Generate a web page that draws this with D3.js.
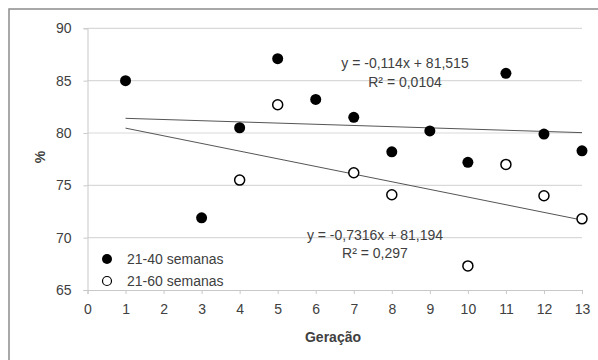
<!DOCTYPE html>
<html>
<head>
<meta charset="utf-8">
<script src="https://cdn.jsdelivr.net/npm/d3@7"></script>
<style>
  body { margin: 0; background: #fff; }
  svg text { font-family: "Liberation Sans", Arial, sans-serif; fill: #404040; }
</style>
</head>
<body>
<svg id="chart" width="598" height="360"></svg>
<script>
// geração (x) e % (y)
geracao40 = [1, 3, 4, 5, 6, 7, 8, 9, 10, 11, 12, 13]
valores40 = [85.0, 71.9, 80.5, 87.1, 83.2, 81.5, 78.2, 80.2, 77.2, 85.7, 79.9, 78.3]
geracao60 = [4, 5, 7, 8, 10, 11, 12, 13]
valores60 = [75.5, 82.7, 76.2, 74.1, 67.3, 77.0, 74.0, 71.8]
// linhas de tendência (coeficientes mostrados no gráfico)
tend40 = {a: -0.114, b: 81.515, eq: "y = -0,114x + 81,515", r2: "R² = 0,0104"}
tend60 = {a: -0.7316, b: 81.194, eq: "y = -0,7316x + 81,194", r2: "R² = 0,297"}
xTicks = d3.range(0, 14)
yTicks = [65, 70, 75, 80, 85, 90]
legenda = ["21-40 semanas", "21-60 semanas"]

fs = 14
svg = d3.select("#chart")
svg.append("rect").attr("x", 9).attr("y", 9).attr("width", 620).attr("height", 400)
  .attr("fill", "#fff").attr("stroke", "#8c8c8c").attr("stroke-width", 1.5)

x = d3.scaleLinear().domain([0, 13]).range([87.5, 582])
y = d3.scaleLinear().domain([65, 90]).range([290, 28.3])

// grade
svg.append("g").selectAll("line").data(yTicks.slice(1)).join("line")
  .attr("x1", x(0)).attr("x2", x(13))
  .attr("y1", d => y(d)).attr("y2", d => y(d))
  .attr("stroke", "#d9d9d9").attr("stroke-width", 1.2)

// eixo x
gx = svg.append("g").attr("transform", "translate(0," + y(65) + ")")
  .call(d3.axisBottom(x).tickValues(xTicks).tickSize(4).tickPadding(10))
gx.select(".domain").attr("stroke", "#c8c8c8")
gx.selectAll(".tick line").attr("stroke", "#c8c8c8")
gx.selectAll(".tick text").attr("font-size", fs).attr("fill", "#404040")
  .attr("font-family", "Liberation Sans, Arial, sans-serif")

// eixo y
gy = svg.append("g").attr("transform", "translate(" + x(0) + ",0)")
  .call(d3.axisLeft(y).tickValues(yTicks).tickSize(4).tickPadding(12))
gy.select(".domain").attr("stroke", "#c8c8c8")
gy.selectAll(".tick line").attr("stroke", "#c8c8c8")
gy.selectAll(".tick text").attr("font-size", fs).attr("fill", "#404040")
  .attr("font-family", "Liberation Sans, Arial, sans-serif")

// tendências
;[tend40, tend60].forEach(function(t){
  svg.append("line")
    .attr("x1", x(1)).attr("y1", y(t.a * 1 + t.b))
    .attr("x2", x(13)).attr("y2", y(t.a * 13 + t.b))
    .attr("stroke", "#555").attr("stroke-width", 1)
})

// pontos
svg.append("g").selectAll("circle").data(d3.zip(geracao40, valores40)).join("circle")
  .attr("cx", d => x(d[0])).attr("cy", d => y(d[1]))
  .attr("r", 5.5).attr("fill", "#000")
svg.append("g").selectAll("circle").data(d3.zip(geracao60, valores60)).join("circle")
  .attr("cx", d => x(d[0])).attr("cy", d => y(d[1]))
  .attr("r", 5).attr("fill", "#fff").attr("stroke", "#000").attr("stroke-width", 1.5)

// equações
function eq(t, cx, cy, cy2){
  svg.append("text").attr("x", cx).attr("y", cy).attr("text-anchor", "middle")
    .attr("font-size", fs).attr("dy", "0.35em").text(t.eq)
  svg.append("text").attr("x", cx).attr("y", cy2).attr("text-anchor", "middle")
    .attr("font-size", fs).attr("dy", "0.35em").text(t.r2)
}
eq(tend40, 405, 63, 82)
eq(tend60, 375, 235, 253)

// legenda
leg = svg.append("g").selectAll("g").data(legenda).join("g")
  .attr("transform", (d, i) => "translate(107," + (259 + i * 22) + ")")
leg.append("circle").attr("r", (d, i) => i ? 4.5 : 5)
  .attr("fill", (d, i) => i ? "#fff" : "#000")
  .attr("stroke", "#000").attr("stroke-width", (d, i) => i ? 1.2 : 0)
leg.append("text").attr("x", 20).attr("dy", "0.35em").attr("font-size", fs).text(d => d)

// títulos
svg.append("text").attr("x", 333).attr("y", 337).attr("text-anchor", "middle")
  .attr("dy", "0.35em").attr("font-size", fs).attr("font-weight", "bold").text("Geração")
svg.append("text").attr("transform", "translate(40,157) rotate(-90)").attr("text-anchor", "middle")
  .attr("dy", "0.35em").attr("font-size", fs).attr("font-weight", "bold").text("%")
</script>
</body>
</html>
